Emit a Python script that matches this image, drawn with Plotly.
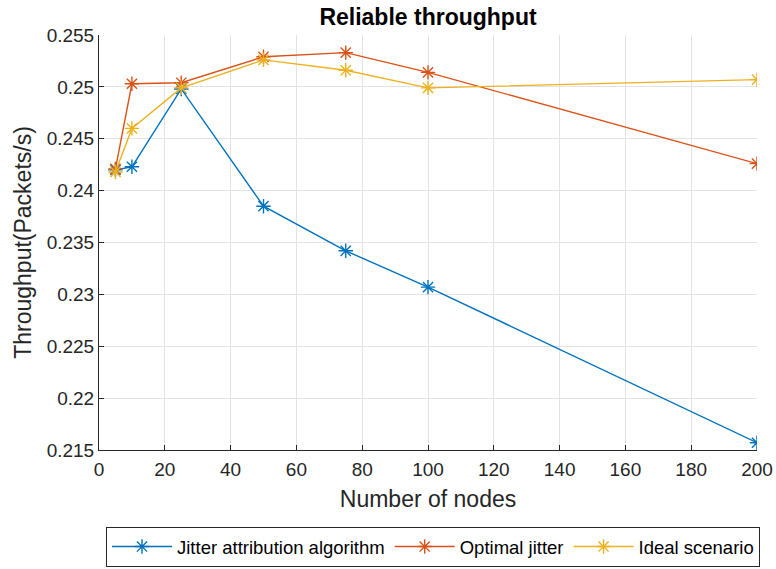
import plotly.graph_objects as go

nodes = [5, 10, 25, 50, 75, 100, 200]
jitter_attr = [0.2420, 0.2423, 0.2498, 0.2385, 0.2342, 0.2307, 0.2157]
optimal = [0.2421, 0.2503, 0.2504, 0.2529, 0.2533, 0.2514, 0.2426]
ideal = [0.2418, 0.2460, 0.2499, 0.2526, 0.2516, 0.2499, 0.2507]

series_names = ["Jitter attribution algorithm", "Optimal jitter", "Ideal scenario"]
colors = ["#0072BD", "#D95319", "#EDB120"]

x_ticks = [0, 20, 40, 60, 80, 100, 120, 140, 160, 180, 200]
y_ticks = [0.215, 0.22, 0.225, 0.23, 0.235, 0.24, 0.245, 0.25, 0.255]
y_tick_text = ["0.215", "0.22", "0.225", "0.23", "0.235", "0.24", "0.245", "0.25", "0.255"]

FONT = "Liberation Sans, Arial, sans-serif"

fig = go.Figure()
for name, ys, c in zip(series_names, [jitter_attr, optimal, ideal], colors):
    fig.add_trace(go.Scatter(
        x=nodes, y=ys, name=name, mode="lines+markers",
        line=dict(color=c, width=1.4),
        marker=dict(symbol="asterisk-open", size=12, line=dict(color=c, width=1.4), color=c),
    ))

fig.update_layout(
    width=776, height=569,
    margin=dict(l=99, r=19, t=35, b=119, autoexpand=False),
    paper_bgcolor="white", plot_bgcolor="white",
    font=dict(family=FONT, color="#262626", size=19),
    title=dict(text="<b>Reliable throughput</b>", x=0.5 * (99 + 757) / 776, xanchor="center",
               y=1 - 17 / 569, yanchor="middle", yref="container",
               font=dict(size=23, color="#000000", family=FONT)),
    showlegend=True,
    legend=dict(orientation="h", xref="container", yref="container",
                x=433 / 776, xanchor="center", y=1 - 527 / 569, yanchor="top",
                bordercolor="#262626", borderwidth=1, bgcolor="white",
                font=dict(size=18.5, color="#000000", family=FONT),
                itemwidth=60, tracegroupgap=0),
)
fig.update_xaxes(
    range=[0, 200], tickvals=x_ticks, ticks="inside", ticklen=5, tickcolor="#262626",
    showline=True, linecolor="#262626", linewidth=1, mirror=False,
    showgrid=True, gridcolor="#e3e3e3", gridwidth=1, zeroline=False,
    ticklabelstandoff=2,
    title=dict(text="Number of nodes", font=dict(size=23, color="#262626"), standoff=12),
    tickfont=dict(size=19, color="#262626"),
)
fig.update_yaxes(
    range=[0.215, 0.255], tickvals=y_ticks, ticktext=y_tick_text, ticks="inside", ticklen=5,
    tickcolor="#262626",
    showline=True, linecolor="#262626", linewidth=1, mirror=False,
    showgrid=True, gridcolor="#e3e3e3", gridwidth=1, zeroline=False,
    title=dict(text="Throughput(Packets/s)", font=dict(size=23, color="#262626"), standoff=8),
    tickfont=dict(size=19, color="#262626"),
)

fig.write_html("out.html")
